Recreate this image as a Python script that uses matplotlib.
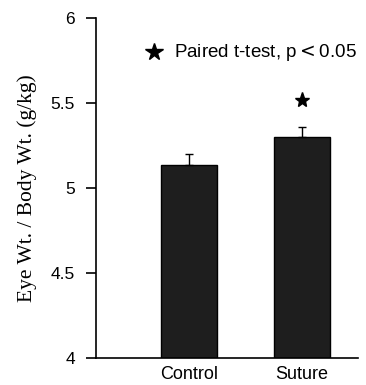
import matplotlib
matplotlib.use("Agg")
import matplotlib.pyplot as plt

groups = ["Control", "Suture"]
means = [5.135, 5.30]
errs = [0.065, 0.06]
sig_label = "Paired t-test, p$<$0.05"
yticks = [4, 4.5, 5, 5.5, 6]
yticklabels = ["4", "4.5", "5", "5.5", "6"]

fig = plt.figure(figsize=(3.66, 3.85), dpi=100)
ax = fig.add_axes([0.262, 0.070, 0.716, 0.883])

x = range(len(groups))
ax.bar(x, [m - 4 for m in means], bottom=4, width=0.5,
       color="#1e1e1e", edgecolor="black", linewidth=1, zorder=2)
ax.errorbar(x, means, yerr=[[0, 0], errs], fmt="none", ecolor="black",
            elinewidth=1, capsize=3, capthick=1, zorder=3)

# significance star above the suture bar
ax.plot(1, 5.52, marker="*", color="black", markersize=11, linestyle="none")
ax.plot(-0.305, 5.8, marker="*", color="black", markersize=13, linestyle="none")
ax.text(-0.13, 5.8, sig_label, va="center", ha="left", fontsize=13.5,
        family="Liberation Sans")

ax.set_xlim(-0.823, 1.496)
ax.set_ylim(4, 6)
ax.set_yticks(yticks)
ax.set_yticklabels(yticklabels, fontsize=12.5, family="Liberation Sans")
ax.set_xticks(list(x))
ax.set_xticklabels(groups, fontsize=13, family="Liberation Sans")
ax.tick_params(axis="x", length=0, pad=6)
ax.tick_params(axis="y", length=7, width=1.2, pad=8)
for s in ["top", "right"]:
    ax.spines[s].set_visible(False)
ax.spines["left"].set_linewidth(1.2)
ax.spines["bottom"].set_linewidth(1.2)
ax.set_ylabel("Eye Wt. / Body Wt. (g/kg)", fontsize=15.5, family="Liberation Serif",
              labelpad=10)

fig.savefig("out.png", dpi=100)
